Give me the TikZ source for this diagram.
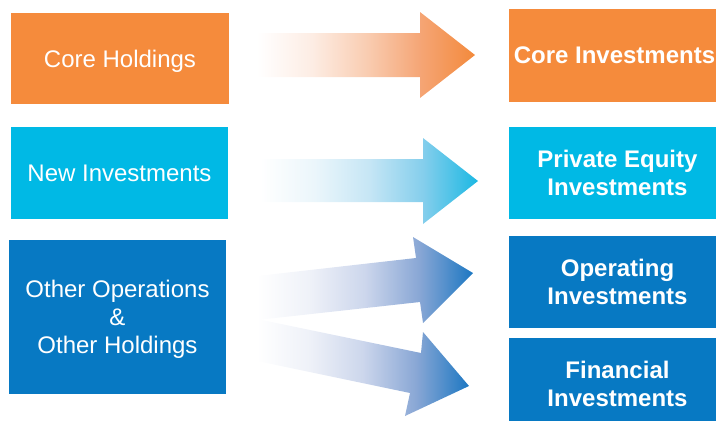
\documentclass[tikz,border=0pt]{standalone}
\usepackage{fontspec}
\setmainfont{Liberation Sans}

% box fills
\definecolor{corefill}{HTML}{F58B3C}
\definecolor{newfill}{HTML}{00B9E5}
\definecolor{otherfill}{HTML}{0779C3}
% arrow gradient colours
\definecolor{orgfaint}{HTML}{FDEDE4}
\definecolor{orgmid}{HTML}{F9CDB2}
\definecolor{orgdeep}{HTML}{F5A575}
\definecolor{orgtip}{HTML}{F38A3C}
\definecolor{cyfaint}{HTML}{EBF6FB}
\definecolor{cymid}{HTML}{C6E6F5}
\definecolor{cydeep}{HTML}{84CEEC}
\definecolor{cytip}{HTML}{1BB8E3}
\definecolor{blfaint}{HTML}{EEF1F8}
\definecolor{blmid}{HTML}{CCD6EC}
\definecolor{bldeep}{HTML}{89A7D5}
\definecolor{bltip}{HTML}{1C77C2}

% fades from white on the left to full colour at the arrow tip
\pgfdeclarehorizontalshading{orangefade}{100bp}{color(0bp)=(white); color(25bp)=(white); color(37.5bp)=(orgfaint); color(50bp)=(orgmid); color(62.5bp)=(orgdeep); color(75bp)=(orgtip); color(100bp)=(orgtip)}
\pgfdeclarehorizontalshading{cyanfade}{100bp}{color(0bp)=(white); color(25bp)=(white); color(37.5bp)=(cyfaint); color(50bp)=(cymid); color(62.5bp)=(cydeep); color(75bp)=(cytip); color(100bp)=(cytip)}
\pgfdeclarehorizontalshading{bluefade}{100bp}{color(0bp)=(white); color(25bp)=(white); color(37.5bp)=(blfaint); color(50bp)=(blmid); color(62.5bp)=(bldeep); color(75bp)=(bltip); color(100bp)=(bltip)}

% a line whose descenders do not count for centring
\newcommand{\nodepth}[1]{\raisebox{0pt}[\height][0pt]{#1}}

\begin{document}
\begin{tikzpicture}[x=1pt,y=-1pt,
  box/.style={rectangle, inner sep=0pt, text=white, align=center,
    font=\fontsize{24}{28}\selectfont},
  srcbox/.style={box},
  dstbox/.style={box, font=\fontsize{24}{28}\selectfont\bfseries,
    minimum width=217pt, minimum height=92pt},
]
\useasboundingbox (0,0) rectangle (716,421);
\clip (0,0) rectangle (716,421);

% source boxes
\node[srcbox, fill=corefill, minimum width=218pt, minimum height=91pt]
  (core) at (120,58.5) {\nodepth{Core Holdings}};
\node[srcbox, fill=newfill, minimum width=217pt, minimum height=92pt]
  (new) at (119.5,173) {New Investments};
\node[srcbox, fill=otherfill, minimum width=217pt, minimum height=154pt]
  (other) at (117.5,317) {Other Operations\\\&\\\nodepth{Other Holdings}};

% target boxes
\node[dstbox, fill=corefill, minimum height=93pt] (coreinv) at (617.5,55.5) {};
\node[text=white, font=\fontsize{24}{28}\selectfont\bfseries, inner sep=0pt]
  (coreinvtext) at (614.5,55.5) {Core Investments};
\node[dstbox, fill=newfill] (peinv) at (617.5,173) {Private Equity\\Investments};
\node[dstbox, fill=otherfill] (opinv) at (617.5,282) {Operating\\Investments};
\node[dstbox, fill=otherfill] (fininv) at (617.5,384) {Financial\\Investments};

% block arrows
\shade[shading=orangefade]
  (257,33) -- (420,33) -- (420,12) -- (475,55) -- (420,98) -- (420,77) -- (257,77) -- cycle;
\shade[shading=cyanfade]
  (260,159) -- (423,159) -- (423,138) -- (478,181) -- (423,224) -- (423,202) -- (260,202) -- cycle;
\shade[shading=bluefade]
  (257,276) -- (416,258) -- (413,237) -- (473,273) -- (423,323) -- (420,302) -- (257,320) -- cycle;
\shade[shading=bluefade]
  (257,319) -- (421,353) -- (423,332) -- (469,386) -- (405,416) -- (410,393) -- (257,361) -- cycle;
\end{tikzpicture}
\end{document}
